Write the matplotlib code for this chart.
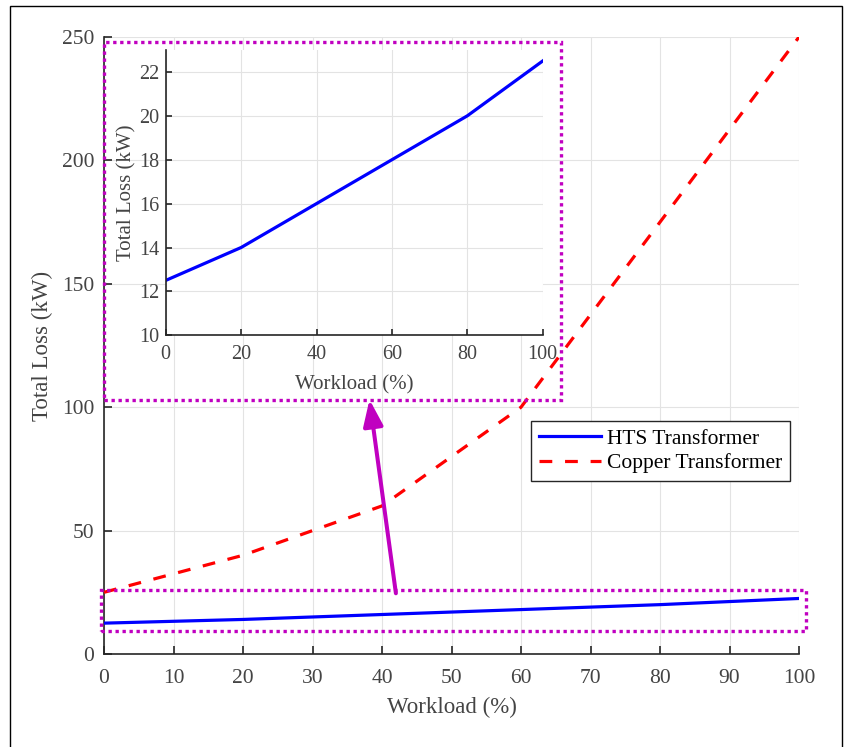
import matplotlib
matplotlib.use("Agg")
import matplotlib.pyplot as plt
from matplotlib.patches import Rectangle

# data
workload = [0, 20, 40, 60, 80, 100]
hts_loss = [12.5, 14, 16, 18, 20, 22.5]
copper_loss = [25, 40, 60, 100, 175, 250]

x_ticks = list(range(0, 101, 10))
y_ticks = list(range(0, 251, 50))
inset_x_ticks = [0, 20, 40, 60, 80, 100]
inset_y_ticks = [10, 12, 14, 16, 18, 20, 22]

plt.rcParams["font.family"] = ["Liberation Serif", "DejaVu Serif"]
plt.rcParams["axes.edgecolor"] = "#262626"
plt.rcParams["xtick.color"] = "#262626"
plt.rcParams["ytick.color"] = "#262626"
plt.rcParams["xtick.labelcolor"] = "#444444"
plt.rcParams["ytick.labelcolor"] = "#444444"

W, H = 848, 747
fig = plt.figure(figsize=(W / 100, H / 100), dpi=100)

def fig_box(x0, y0, x1, y1):
    # pixel box -> figure fraction [left, bottom, width, height]
    return [x0 / W, 1 - y1 / H, (x1 - x0) / W, (y1 - y0) / H]

grid_kw = dict(color="#e3e3e3", linewidth=0.8)
magenta = "#c000c0"

# main axes
ax = fig.add_axes(fig_box(104, 37, 799, 654))
ax.plot(workload, hts_loss, color="#0000ff", lw=2.3, label="HTS Transformer", zorder=3)
ax.plot(workload, copper_loss, color="#ff0000", lw=2.3, ls=(0, (4, 4)),
        dash_capstyle="butt", label="Copper Transformer", zorder=3)
ax.set_xlim(0, 100)
ax.set_ylim(0, 250)
ax.set_xticks(x_ticks)
ax.set_yticks(y_ticks)
ax.grid(True, **grid_kw)
ax.set_axisbelow(True)
for s in ["top", "right"]:
    ax.spines[s].set_visible(False)
for s in ["left", "bottom"]:
    ax.spines[s].set_linewidth(1.2)
ax.tick_params(direction="in", length=6, width=1.2, labelsize=15.5)
ax.tick_params(axis="y", pad=7)
ax.tick_params(axis="x", pad=10.5)
ax.set_xlabel("Workload (%)", fontsize=16.5, color="#444444", labelpad=7)
ax.set_ylabel("Total Loss (kW)", fontsize=16.5, color="#444444", labelpad=6)

# zoom boxes and arrow
ax.add_patch(Rectangle((-0.5, 9.3), 101.5, 16.7, fill=False, edgecolor=magenta,
                       lw=2.4, ls=(0, (1, 1.1)), clip_on=False, zorder=5))
ax.add_patch(Rectangle((0, 102.8), 65.8, 145.0, fill=False, edgecolor=magenta,
                       lw=2.4, ls=(0, (1, 1.1)), clip_on=False, zorder=5))
ax.annotate("", xy=(38.2, 103.1), xytext=(42.0, 24.6),
            arrowprops=dict(arrowstyle="-|>,head_length=1.6,head_width=0.6",
                            color=magenta, lw=2.9, shrinkA=0, shrinkB=0,
                            mutation_scale=10),
            zorder=6)

leg = ax.legend(loc="upper left", bbox_to_anchor=(531 / W, 1 - 421 / H),
                bbox_transform=fig.transFigure, borderaxespad=0, fontsize=15.5,
                fancybox=False, framealpha=1, edgecolor="#262626",
                handlelength=2.9, handletextpad=0.3, labelspacing=0.22,
                borderpad=0.35)
leg.get_frame().set_linewidth(1.0)

# inset axes
axin = fig.add_axes(fig_box(165.7, 50, 542.7, 335.3))
axin.plot(workload, hts_loss, color="#0000ff", lw=2.3)
axin.set_xlim(0, 100)
axin.set_ylim(10, 23)
axin.set_xticks(inset_x_ticks)
axin.set_yticks(inset_y_ticks)
axin.grid(True, **grid_kw)
axin.set_axisbelow(True)
for s in ["top", "right"]:
    axin.spines[s].set_visible(False)
for s in ["left", "bottom"]:
    axin.spines[s].set_linewidth(1.2)
axin.tick_params(direction="in", length=4, width=1.2, labelsize=14.5)
axin.tick_params(axis="y", pad=4.5)
axin.tick_params(axis="x", pad=7)
axin.set_xlabel("Workload (%)", fontsize=15, color="#444444", labelpad=8)
axin.set_ylabel("Total Loss (kW)", fontsize=15, color="#444444", labelpad=2)

# outer frame of the picture
fig.add_artist(Rectangle((10 / W, -0.01), (842 - 10) / W, 1.01 - 5.5 / H,
                         transform=fig.transFigure, fill=False,
                         edgecolor="black", lw=1.0))

fig.savefig("out.png", dpi=100)
